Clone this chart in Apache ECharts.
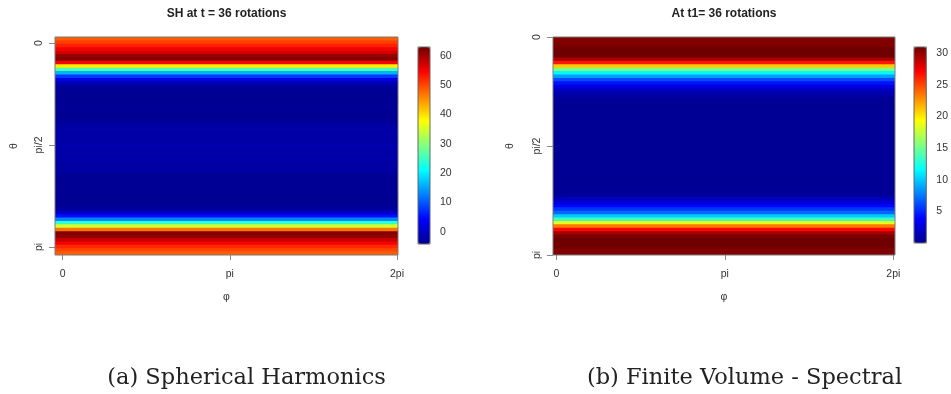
<!DOCTYPE html>
<html><head><meta charset="utf-8">
<script src="https://cdn.jsdelivr.net/npm/echarts/dist/echarts.min.js"></script>
<style>html,body{margin:0;padding:0;background:#fff}#c{width:951px;height:394px}</style>
</head><body><div id="c"></div>
<script>
// ---- data ----
const shTitle = 'SH at t = 36 rotations';
const fvTitle = 'At t1= 36 rotations';
const captions = ['(a) Spherical Harmonics', '(b) Finite Volume - Spectral'];
const phiTicks = [0, Math.PI, 2 * Math.PI];
const phiTickLabels = ['0', 'pi', '2pi'];
const thetaTicks = [0, Math.PI / 2, Math.PI];
const thetaTickLabels = ['0', 'pi/2', 'pi'];
// value per theta row (top = theta 0), constant along phi
const shRows = [
  48.5, 50.5, 52.5, 55, 57.5, 60.5, 62, 55, 39, 26, 16, 8, 2, -1.5, -3, -3.5,
  -4, -4, -4, -4, -3.5, -4, -4, -4, -3.5,
  -3, -2.5, -2.5, -2, -2.5, -2.5, -2, -2, -2.5, -2.5, -2, -2.5, -3, -2.5, -3, -3.5,
  -4, -4, -3.5, -4, -4, -4, -4, -4, -3.5,
  -3, 0, 5, 13, 24, 35, 47, 62, 61, 58, 55, 52, 50, 48.5
];
const fvRows = [
  30.5, 30.5, 30.6, 31, 31, 31, 29.5, 26.5, 21, 15.5, 11.5, 8.7, 6.2, 4.4, 2.8, 1.8, 1.0, 0.6,
  0.2, 0.2, 0.2, 0.2, 0.2, 0.2, 0.2, 0.2, 0.2, 0.2, 0.2, 0.2, 0.2, 0.2,
  0.2, 0.2, 0.2, 0.2, 0.2, 0.2, 0.2, 0.2, 0.2, 0.2, 0.2, 0.2, 0.2, 0.3,
  0.5, 1.5, 2.5, 4, 5.5, 7, 10, 13.5, 18.5, 23.5, 27, 29.5, 30.7, 31, 31, 31, 30.5, 30.5
];
const shColorTicks = [0, 10, 20, 30, 40, 50, 60];
const fvColorTicks = [5, 10, 15, 20, 25, 30];
const shRange = [-4.2, 63];
const fvRange = [0, 31];

// ---- styling ----
const FONT = 'Liberation Sans, Arial, sans-serif';
const jet = ['#00008F', '#0000FF', '#0080FF', '#00FFFF', '#80FF80', '#FFFF00', '#FF8000', '#FF0000', '#700000'];
const tickCol = '#8a8a8a';
const labCol = '#333';
const pick = (ticks, labels) => v => {
  const i = ticks.findIndex(t => Math.abs(t - v) < 1e-6);
  return i >= 0 ? labels[i] : '';
};
const toCells = rows => rows.map((v, i) => [0, i, v]);
const rowIdx = rows => rows.map((_, i) => String(i));

function catX(g) {
  return { type: 'category', gridIndex: g, data: ['c'], show: false };
}
function catY(g, rows) {
  return { type: 'category', gridIndex: g, data: rowIdx(rows), inverse: true, show: false };
}
function phiAxis(g, min, max) {
  return {
    type: 'value', gridIndex: g, position: 'bottom', min: min, max: max,
    axisLine: { show: false },
    axisTick: { show: true, length: 5, customValues: phiTicks, lineStyle: { color: tickCol } },
    axisLabel: { customValues: phiTicks, formatter: pick(phiTicks, phiTickLabels), margin: 14,
      fontFamily: FONT, fontSize: 10.5, color: labCol },
    splitLine: { show: false },
    name: 'φ', nameLocation: 'middle', nameGap: 37,
    nameTextStyle: { fontFamily: FONT, fontSize: 10.5, color: labCol }
  };
}
function thetaAxis(g, min, max, gap) {
  return {
    type: 'value', gridIndex: g, position: 'left', inverse: true, min: min, max: max,
    axisLine: { show: false },
    axisTick: { show: true, length: 6, customValues: thetaTicks, lineStyle: { color: tickCol } },
    axisLabel: { customValues: thetaTicks, formatter: pick(thetaTicks, thetaTickLabels), rotate: 90,
      margin: 10, fontFamily: FONT, fontSize: 10.5, color: labCol },
    splitLine: { show: false },
    name: 'θ', nameLocation: 'middle', nameRotate: 90, nameGap: gap,
    nameTextStyle: { fontFamily: FONT, fontSize: 10.5, color: labCol }
  };
}
function cbX(g) {
  return { type: 'value', gridIndex: g, show: false, min: 0, max: 1 };
}
function cbY(g, range, ticks) {
  return {
    type: 'value', gridIndex: g, position: 'right', min: range[0], max: range[1],
    axisLine: { show: false },
    axisTick: { show: true, length: 4, customValues: ticks, lineStyle: { color: '#666' } },
    axisLabel: { customValues: ticks, margin: 10, fontFamily: FONT, fontSize: 10.5, color: labCol },
    splitLine: { show: false }
  };
}
// one band per theta row, placed by the category axes, coloured by visualMap;
// each band overlaps the next by a fraction of a pixel to avoid seams
function renderRow(params, api) {
  const c = api.coord([api.value(0), api.value(1)]);
  const s = api.size([1, 1]);
  return {
    type: 'rect',
    shape: { x: c[0] - s[0] / 2, y: c[1] - s[1] / 2, width: s[0], height: s[1] + 1 },
    style: { fill: api.visual('color') }
  };
}

const chart = echarts.init(document.getElementById('c'), null, { renderer: 'canvas' });
chart.setOption({
  backgroundColor: '#fff',
  animation: false,
  grid: [
    { left: 55, top: 37, width: 343, height: 218, show: true, borderColor: '#7a7a7a', borderWidth: 1, backgroundColor: 'transparent', z: 10 },
    { left: 553, top: 37, width: 342, height: 218, show: true, borderColor: '#7a7a7a', borderWidth: 1, backgroundColor: 'transparent', z: 10 },
    { left: 418, top: 47, width: 12, height: 197, show: true, borderColor: '#666', borderWidth: 1, backgroundColor: 'transparent', z: 10 },
    { left: 914, top: 47, width: 12.5, height: 196, show: true, borderColor: '#666', borderWidth: 1, backgroundColor: 'transparent', z: 10 }
  ],
  xAxis: [
    catX(0), phiAxis(0, -0.145, 6.302),
    catX(1), phiAxis(1, -0.0615, 6.315),
    cbX(2), cbX(3)
  ],
  yAxis: [
    catY(0, shRows), thetaAxis(0, -0.092, 3.265, 35),
    catY(1, fvRows), thetaAxis(1, 0, Math.PI, 37),
    cbY(2, shRange, shColorTicks), cbY(3, fvRange, fvColorTicks)
  ],
  visualMap: [
    { type: 'continuous', seriesIndex: 0, dimension: 2, min: shRange[0], max: shRange[1], calculable: false,
      left: 418, top: 47, itemWidth: 12, itemHeight: 197, padding: 0, hoverLink: false,
      inRange: { color: jet } },
    { type: 'continuous', seriesIndex: 1, dimension: 2, min: fvRange[0], max: fvRange[1], calculable: false,
      left: 914, top: 47, itemWidth: 12.5, itemHeight: 196, padding: 0, hoverLink: false,
      inRange: { color: jet } }
  ],
  series: [
    { type: 'custom', xAxisIndex: 0, yAxisIndex: 0, data: toCells(shRows), renderItem: renderRow, clip: true,
      encode: { x: 0, y: 1 }, emphasis: { disabled: true } },
    { type: 'custom', xAxisIndex: 2, yAxisIndex: 2, data: toCells(fvRows), renderItem: renderRow, clip: true,
      encode: { x: 0, y: 1 }, emphasis: { disabled: true } }
  ],
  graphic: [
    { type: 'text', x: 226.5, y: 13.5, style: { text: shTitle, align: 'center', verticalAlign: 'middle',
      font: 'bold 12px ' + FONT, fill: '#222' } },
    { type: 'text', x: 724, y: 13.5, style: { text: fvTitle, align: 'center', verticalAlign: 'middle',
      font: 'bold 12px ' + FONT, fill: '#222' } },
    { type: 'text', x: 246.5, y: 378, style: { text: captions[0], align: 'center', verticalAlign: 'middle',
      font: '22.5px "DejaVu Serif", serif', fill: '#222' } },
    { type: 'text', x: 744.5, y: 378, style: { text: captions[1], align: 'center', verticalAlign: 'middle',
      font: '22.5px "DejaVu Serif", serif', fill: '#222' } }
  ]
});
</script>
</body></html>
